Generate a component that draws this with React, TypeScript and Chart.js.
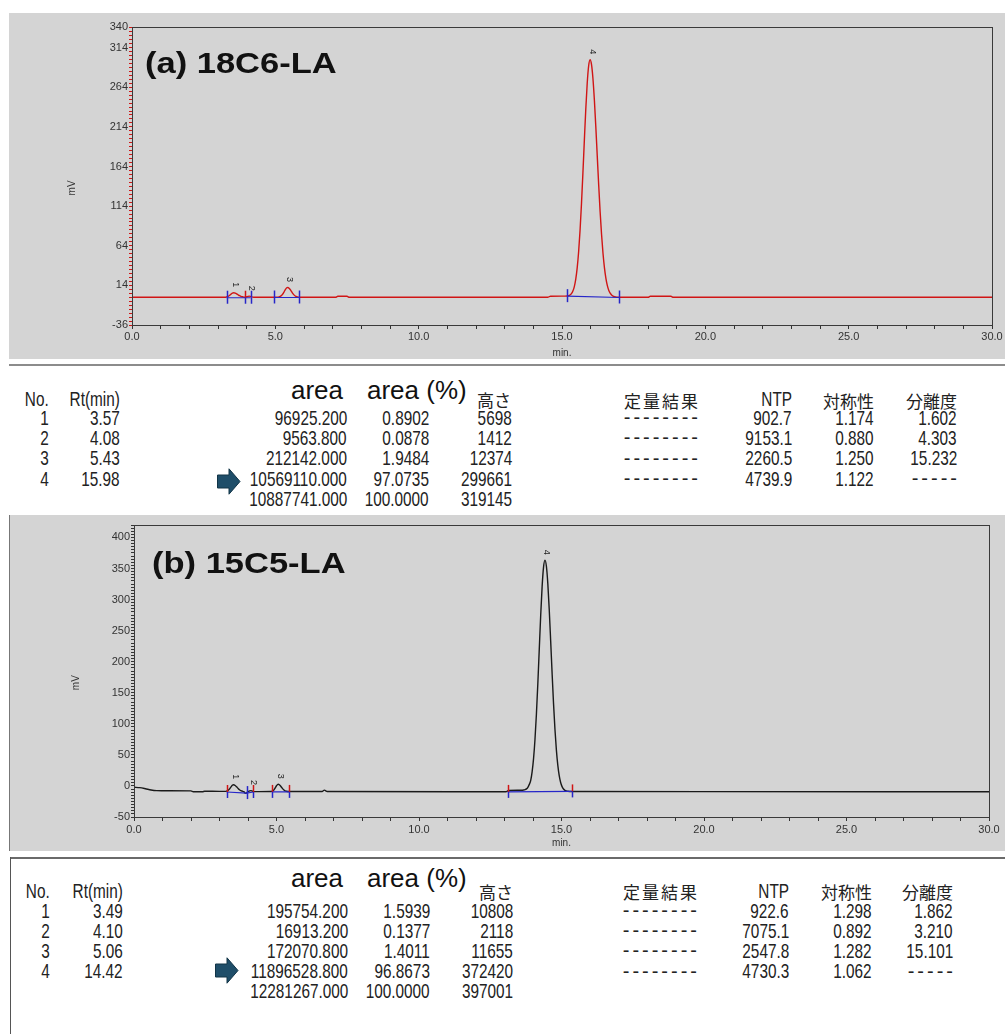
import React, { useEffect, useRef } from 'react';
import { Chart, registerables } from 'chart.js';

Chart.register(...registerables);

// ===================== DATA =====================
// ---- (a) 18C6-LA chromatogram (time in min, signal in mV) ----
const timeA = [
  0.0, 3.25, 3.3, 3.35, 3.4, 3.45, 3.5, 3.55, 3.6, 3.65, 3.7, 3.75, 3.8, 3.85, 3.9, 3.95,
  4.0, 4.05, 4.09, 4.13, 4.18, 4.25, 4.35, 5.0, 5.1, 5.2, 5.25, 5.3, 5.35, 5.4, 5.43, 5.48,
  5.55, 5.6, 5.65, 5.7, 5.8, 5.9, 7.1, 7.18, 7.5, 7.58, 14.5, 14.6, 15.1, 15.18, 15.23,
  15.28, 15.33, 15.38, 15.43, 15.48, 15.53, 15.58, 15.63, 15.68, 15.73, 15.78, 15.83, 15.88,
  15.93, 15.98, 16.03, 16.08, 16.13, 16.18, 16.23, 16.28, 16.33, 16.38, 16.43, 16.48, 16.53,
  16.58, 16.63, 16.68, 16.73, 16.78, 16.83, 16.88, 16.95, 18.0, 18.08, 18.8, 18.88, 30.0,
];
const signalA = [
  -1, -1, -0.6, 0.1, 1.2, 2.8, 4.1, 4.7, 4.3, 3.4, 2.2, 1.0, 0.2, -0.4, -0.8, -0.9,
  -0.4, 0.2, 0.4, 0.1, -0.5, -0.9, -1, -1, -0.8, 0.7, 2.6, 5.5, 8.7, 11.0, 11.4, 10.5,
  7.1, 4.3, 2.0, 0.4, -0.8, -1, -1, 0.2, 0.2, -1, -1, 0.3, 0.4, 0.6, 1.0,
  1.9, 3.6, 6.8, 12.5, 21.8, 36.0, 56.4, 83.5, 117.3, 156.1, 197.3, 236.5, 269.3,
  291.1, 298.7, 292.5, 274.7, 247.5, 213.8, 177.1, 140.6, 107.0, 78.1, 54.5, 36.3, 23.1,
  13.9, 7.9, 4.1, 1.8, 0.5, -0.3, -0.65, -1, -1, 0.2, 0.2, -1, -1,
];
const peakNoA = ['1', '2', '3', '4'];
const peakTimeA = [3.55, 4.1, 5.43, 15.98];
const peakTopA = [4.7, 0.4, 11.4, 298.7];
const baseTimeA = [3.3, 4.14, 4.5, 4.95, 5.84, 10, 15.18, 16.99];
const baseLevelA = [-1.6, -1.6, null, -1.3, -1.3, null, 0.4, -1.3];
const markTimeA = [3.3, 3.93, 4.14, 4.95, 5.84, 15.18, 16.99];
const markLevelA = [-1.6, -1.6, -1.6, -1.3, -1.3, 0.4, -1.3];
const markKindA = ['b', 'rb', 'b', 'b', 'b', 'b', 'b'];
const yLabelsA = [-36, 14, 64, 114, 164, 214, 264, 314, 340];

// ---- (b) 15C5-LA chromatogram ----
const timeB = [
  0.0, 0.2, 0.4, 0.6, 0.8, 1.2, 2.0, 2.08, 2.4, 2.48, 3.0, 3.2, 3.25, 3.3, 3.35, 3.4, 3.45,
  3.49, 3.55, 3.6, 3.65, 3.7, 3.75, 3.8, 3.85, 3.92, 3.96, 4.02, 4.1, 4.16, 4.22, 4.3, 4.8,
  4.85, 4.9, 4.95, 5.0, 5.06, 5.1, 5.15, 5.2, 5.25, 5.3, 5.35, 5.4, 6.6, 6.68, 6.78, 13.05,
  13.15, 13.6, 13.67, 13.72, 13.77, 13.82, 13.87, 13.92, 13.97, 14.02, 14.07, 14.12, 14.17,
  14.22, 14.27, 14.32, 14.37, 14.42, 14.47, 14.52, 14.57, 14.62, 14.67, 14.72, 14.77, 14.82,
  14.87, 14.92, 14.97, 15.02, 15.07, 15.12, 15.17, 15.22, 15.35, 20.0, 30.0,
];
const signalB = [
  -2, -2.8, -4.5, -6.5, -7.5, -7.8, -8.0, -9.3, -9.3, -8.5, -8.8, -8.8, -8.4, -7.2, -5.0, -1.8, 1.0,
  1.8, 0.7, -1.5, -3.9, -6.1, -7.5, -8.4, -9.2, -12.0, -10.8, -8.6, -7.5, -8.5, -9.2, -9.1, -8.9,
  -8.3, -6.8, -3.6, 0.3, 2.7, 2.0, -0.5, -3.6, -6.2, -7.8, -8.6, -8.9, -9.0, -6.8, -9.0, -9.3,
  -7.3, -7.0, -6.6, -6.0, -4.8, -2.3, 2.5, 8.9, 22.9, 44.4, 75.2, 115.9, 165.4,
  220.2, 274.4, 320.8, 352.3, 363.4, 353.6, 325.6, 283.6, 233.5, 181.6, 132.9, 91.2, 58.0,
  33.5, 16.5, 5.6, -1.1, -5.0, -7.1, -8.1, -8.6, -9.0, -9.2, -9.3,
];
const peakNoB = ['1', '2', '3', '4'];
const peakTimeB = [3.49, 4.12, 5.06, 14.42];
const peakTopB = [1.8, -7.5, 2.7, 363.4];
const baseTimeB = [3.25, 3.95, 4.19, 4.5, 4.83, 5.45, 9, 13.11, 15.36];
const baseLevelB = [-9.8, -11.5, -9.8, null, -9.6, -9.6, null, -9.6, -8.8];
const markTimeB = [3.25, 3.95, 4.19, 4.83, 5.45, 13.11, 15.36];
const markLevelB = [-9.8, -11.5, -9.8, -9.6, -9.6, -9.6, -8.8];
const markKindB = ['rb', 'b', 'rb', 'rb', 'rb', 'rb', 'rb'];
const yLabelsB = [-50, 0, 50, 100, 150, 200, 250, 300, 350, 400];

const xLabels = [0, 5, 10, 15, 20, 25, 30];

// ---- result tables ----
const peakNos = ['1', '2', '3', '4'];
const rtA = ['3.57', '4.08', '5.43', '15.98'];
const areaA = ['96925.200', '9563.800', '212142.000', '10569110.000', '10887741.000'];
const areaPctA = ['0.8902', '0.0878', '1.9484', '97.0735', '100.0000'];
const heightA = ['5698', '1412', '12374', '299661', '319145'];
const quantA = ['--------', '--------', '--------', '--------'];
const ntpA = ['902.7', '9153.1', '2260.5', '4739.9'];
const symA = ['1.174', '0.880', '1.250', '1.122'];
const resA = ['1.602', '4.303', '15.232', '-----'];

const rtB = ['3.49', '4.10', '5.06', '14.42'];
const areaB = ['195754.200', '16913.200', '172070.800', '11896528.800', '12281267.000'];
const areaPctB = ['1.5939', '0.1377', '1.4011', '96.8673', '100.0000'];
const heightB = ['10808', '2118', '11655', '372420', '397001'];
const quantB = ['--------', '--------', '--------', '--------'];
const ntpB = ['922.6', '7075.1', '2547.8', '4730.3'];
const symB = ['1.298', '0.892', '1.282', '1.062'];
const resB = ['1.862', '3.210', '15.101', '-----'];

// ===================== STYLE =====================
const GREY = '#d4d4d4';
const BLUE = '#2626c8';
const RED = '#d01515';
const SANS = '"Liberation Sans", Arial, sans-serif';
const NUM = '"Liberation Sans", Arial, sans-serif';
const JP = '"Noto Sans CJK JP", sans-serif';

type ChromProps = {
  left: number; top: number; width: number; height: number;
  axisW: number; padTop: number; padRight: number;
  yMin: number; yMax: number; yLabels: number[];
  time: number[]; signal: number[];
  baseTime: number[]; baseLevel: (number | null)[];
  markTime: number[]; markLevel: number[]; markKind: string[];
  peakNo: string[]; peakTime: number[]; peakTop: number[];
  traceColor: string; yTickColor: string; xLabelPad: number; titlePadBottom: number; mvOffset: number;
};

function Chromatogram(p: ChromProps) {
  const ref = useRef<HTMLCanvasElement>(null);
  useEffect(() => {
    const overlay = {
      id: 'overlay',
      afterDatasetsDraw(chart: any) {
        const { ctx, scales } = chart;
        const x = scales.x, y = scales.y;
        ctx.save();
        p.markTime.forEach((t, i) => {
          const px = Math.round(x.getPixelForValue(t)) + 0.5;
          const py = y.getPixelForValue(p.markLevel[i]);
          ctx.lineWidth = 1.5;
          ctx.strokeStyle = p.markKind[i] === 'rb' ? RED : BLUE;
          ctx.beginPath(); ctx.moveTo(px, py - 7); ctx.lineTo(px, py); ctx.stroke();
          ctx.strokeStyle = BLUE;
          ctx.beginPath(); ctx.moveTo(px, py); ctx.lineTo(px, py + 6); ctx.stroke();
        });
        ctx.fillStyle = '#222';
        ctx.font = `9px ${SANS}`;
        ctx.textAlign = 'center';
        ctx.textBaseline = 'middle';
        p.peakNo.forEach((n, i) => {
          const px = x.getPixelForValue(p.peakTime[i]) + 2;
          const py = y.getPixelForValue(p.peakTop[i]) - 8;
          ctx.save();
          ctx.translate(px, py);
          ctx.rotate(Math.PI / 2);
          ctx.fillText(n, 0, 0);
          ctx.restore();
        });
        ctx.restore();
      },
      afterDraw(chart: any) {
        const { ctx, chartArea } = chart;
        ctx.save();
        ctx.strokeStyle = '#3a3a3a';
        ctx.lineWidth = 1;
        ctx.strokeRect(Math.round(chartArea.left) + 0.5, Math.round(chartArea.top) + 0.5,
          Math.round(chartArea.right - chartArea.left), Math.round(chartArea.bottom - chartArea.top));
        ctx.translate(chartArea.left - p.mvOffset, chartArea.top + 0.54 * (chartArea.bottom - chartArea.top));
        ctx.rotate(-Math.PI / 2);
        ctx.fillStyle = '#333';
        ctx.font = `10px ${SANS}`;
        ctx.textAlign = 'center';
        ctx.textBaseline = 'middle';
        ctx.fillText('mV', 0, 0);
        ctx.restore();
      },
    };

    const chart = new Chart(ref.current as HTMLCanvasElement, {
      type: 'line',
      data: {
        datasets: [
          {
            data: p.baseTime.map((t, i) => ({ x: t, y: p.baseLevel[i] })) as any,
            borderColor: BLUE, borderWidth: 1.2, pointRadius: 0, spanGaps: false, order: 0,
          },
          {
            data: p.time.map((t, i) => ({ x: t, y: p.signal[i] })),
            borderColor: p.traceColor, borderWidth: 1.4, pointRadius: 0,
            cubicInterpolationMode: 'monotone', order: 1,
          },
        ],
      },
      options: {
        animation: false,
        responsive: false,
        layout: { padding: { top: p.padTop, right: p.padRight, left: 0, bottom: 0 } },
        plugins: { legend: { display: false }, tooltip: { enabled: false } },
        scales: {
          x: {
            type: 'linear', min: 0, max: 30,
            afterBuildTicks: (axis: any) => {
              const ticks = [];
              for (let v = 0; v <= 30; v += 1) ticks.push({ value: v });
              axis.ticks = ticks;
            },
            afterFit: (s: any) => { s.height = 34; },
            ticks: {
              autoSkip: false, maxRotation: 0, padding: p.xLabelPad, color: '#333',
              font: { family: SANS, size: 11 },
              callback: (v: any) => (xLabels.includes(Number(v)) ? Number(v).toFixed(1) : ''),
            },
            grid: { drawOnChartArea: false, tickLength: 4, tickColor: '#333' },
            border: { color: '#333', width: 1 },
            title: { display: true, text: 'min.', color: '#333', font: { family: SANS, size: 10 }, padding: { top: 0, bottom: p.titlePadBottom } },
          },
          y: {
            type: 'linear', min: p.yMin, max: p.yMax,
            afterBuildTicks: (axis: any) => {
              const vals: number[] = [];
              for (let v = p.yMin; v <= p.yMax + 1e-9; v += 5) vals.push(v);
              p.yLabels.forEach((v) => { if (!vals.includes(v)) vals.push(v); });
              vals.sort((a, b) => a - b);
              axis.ticks = vals.map((v) => ({ value: v }));
            },
            afterFit: (s: any) => { s.width = p.axisW; },
            ticks: {
              autoSkip: false, padding: 1, color: '#333',
              font: { family: SANS, size: 11 },
              callback: (v: any) => (p.yLabels.includes(Number(v)) ? String(v) : ''),
            },
            grid: { drawOnChartArea: false, tickLength: 3, tickColor: p.yTickColor },
            border: { color: '#333', width: 1 },
          },
        },
      } as any,
      plugins: [overlay],
    });
    return () => chart.destroy();
  }, []);
  return (
    <canvas ref={ref} width={p.width} height={p.height}
      style={{ position: 'absolute', left: p.left, top: p.top, width: p.width, height: p.height }} />
  );
}

// ---------- table helpers ----------
function R(props: { x: number; y: number; text: string; size?: number; font?: string; ls?: number; sx?: number; color?: string }) {
  const size = props.size ?? 21;
  const ls = props.ls ?? 0;
  const sx = props.sx ?? 0.73;
  return (
    <div style={{
      position: 'absolute', right: 1005 - props.x - ls, top: props.y - size / 2, height: size,
      lineHeight: `${size}px`, fontSize: size, fontFamily: props.font ?? NUM, letterSpacing: ls,
      color: props.color ?? '#222', whiteSpace: 'nowrap', textAlign: 'right',
      transform: sx !== 1 ? `scaleX(${sx})` : undefined, transformOrigin: 'right center',
    }}>{props.text}</div>
  );
}

function Arrow(props: { left: number; top: number }) {
  return (
    <svg style={{ position: 'absolute', left: props.left, top: props.top }} width={24} height={27} viewBox="0 0 24 27">
      <polygon points="0.5,7 12,7 12,0.8 23,13.5 12,26.2 12,20 0.5,20" fill="#1f4e69" stroke="#123447" strokeWidth={1} />
    </svg>
  );
}

type TableProps = {
  hy: number; jy: number; rows: number[]; areaBase: number;
  cx: { no: number; rt: number; area: number; pct: number; h: number; q: number; ntp: number; sym: number; res: number; hLeft: number };
  rt: string[]; area: string[]; pct: string[]; height: string[]; quant: string[]; ntp: string[]; sym: string[]; res: string[];
  arrowLeft: number; arrowTop: number;
};

function ResultTable(t: TableProps) {
  const c = t.cx;
  return (
    <>
      <R x={c.no} y={t.hy} text="No." />
      <R x={c.rt} y={t.hy} text="Rt(min)" />
      <div style={{ position: 'absolute', right: 1005 - 343, top: t.areaBase - 22, lineHeight: '26px', fontSize: 26, fontFamily: SANS, color: '#111', whiteSpace: 'nowrap' }}>area</div>
      <div style={{ position: 'absolute', left: 367, top: t.areaBase - 22, lineHeight: '26px', fontSize: 26, fontFamily: SANS, color: '#111', whiteSpace: 'nowrap' }}>area (%)</div>
      <div style={{ position: 'absolute', left: c.hLeft, top: t.jy - 9, lineHeight: '18px', fontSize: 17, fontFamily: JP, color: '#222', whiteSpace: 'nowrap' }}>高さ</div>
      <R x={c.q} y={t.jy} text="定量結果" font={JP} size={17} ls={2} sx={1} />
      <R x={c.ntp} y={t.hy} text="NTP" />
      <R x={c.sym} y={t.jy} text="対称性" font={JP} size={17} sx={1} />
      <R x={c.res} y={t.jy} text="分離度" font={JP} size={17} sx={1} />
      {peakNos.map((n, i) => <R key={'n' + i} x={c.no} y={t.rows[i]} text={n} />)}
      {t.rt.map((v, i) => <R key={'r' + i} x={c.rt} y={t.rows[i]} text={v} />)}
      {t.area.map((v, i) => <R key={'a' + i} x={c.area} y={t.rows[i]} text={v} />)}
      {t.pct.map((v, i) => <R key={'p' + i} x={c.pct} y={t.rows[i]} text={v} />)}
      {t.height.map((v, i) => <R key={'h' + i} x={c.h} y={t.rows[i]} text={v} />)}
      {t.quant.map((v, i) => <R key={'q' + i} x={c.q} y={t.rows[i]} text={v} size={20} ls={3} sx={1} />)}
      {t.ntp.map((v, i) => <R key={'t' + i} x={c.ntp} y={t.rows[i]} text={v} />)}
      {t.sym.map((v, i) => <R key={'s' + i} x={c.sym} y={t.rows[i]} text={v} />)}
      {t.res.map((v, i) => (v.startsWith('-')
        ? <R key={'e' + i} x={c.res} y={t.rows[i]} text={v} size={20} ls={3} sx={1} />
        : <R key={'e' + i} x={c.res} y={t.rows[i]} text={v} />))}
      <Arrow left={t.arrowLeft} top={t.arrowTop} />
    </>
  );
}

function PanelTitle(props: { text: string; left: number; top: number }) {
  return (
    <div style={{
      position: 'absolute', left: props.left, top: props.top, fontFamily: SANS, fontWeight: 'bold',
      fontSize: 30, lineHeight: '30px', color: '#111', whiteSpace: 'nowrap',
      transform: 'scaleX(1.15)', transformOrigin: 'left top',
    }}>{props.text}</div>
  );
}

export default function App() {
  return (
    <div style={{ position: 'fixed', left: 0, top: 0, width: 1005, height: 1034, background: '#fff', overflow: 'hidden' }}>
      {/* ---------- panel (a) ---------- */}
      <div style={{ position: 'absolute', left: 9, top: 13, width: 996, height: 346, background: GREY }} />
      <Chromatogram
        left={9} top={13} width={996} height={346} axisW={123} padTop={14} padRight={13}
        yMin={-36} yMax={340} yLabels={yLabelsA}
        time={timeA} signal={signalA} baseTime={baseTimeA} baseLevel={baseLevelA}
        markTime={markTimeA} markLevel={markLevelA} markKind={markKindA}
        peakNo={peakNoA} peakTime={peakTimeA} peakTop={peakTopA}
        traceColor={RED} yTickColor={RED} xLabelPad={1} titlePadBottom={0} mvOffset={59.5}
      />
      <PanelTitle text="(a) 18C6-LA" left={145} top={47.8} />
      <div style={{ position: 'absolute', left: 9, top: 364, width: 996, height: 2, background: '#8c8c8c' }} />
      <ResultTable
        hy={398} jy={400} areaBase={399} rows={[417, 437.3, 457.7, 478, 498.3]}
        cx={{ no: 49, rt: 120, area: 347, pct: 429, h: 512, q: 698, ntp: 792, sym: 874, res: 957, hLeft: 477 }}
        rt={rtA} area={areaA} pct={areaPctA} height={heightA} quant={quantA} ntp={ntpA} sym={symA} res={resA}
        arrowLeft={217} arrowTop={468}
      />

      {/* ---------- panel (b) ---------- */}
      <div style={{ position: 'absolute', left: 9, top: 515, width: 996, height: 336, background: GREY }} />
      <div style={{ position: 'absolute', left: 9, top: 515, width: 1, height: 336, background: '#777' }} />
      <Chromatogram
        left={9} top={515} width={996} height={336} axisW={125} padTop={10} padRight={16}
        yMin={-50} yMax={420} yLabels={yLabelsB}
        time={timeB} signal={signalB} baseTime={baseTimeB} baseLevel={baseLevelB}
        markTime={markTimeB} markLevel={markLevelB} markKind={markKindB}
        peakNo={peakNoB} peakTime={peakTimeB} peakTop={peakTopB}
        traceColor="#1a1a1a" yTickColor="#333" xLabelPad={2} titlePadBottom={2} mvOffset={58}
      />
      <PanelTitle text="(b) 15C5-LA" left={152} top={547.8} />
      <div style={{ position: 'absolute', left: 10, top: 857, width: 995, height: 2, background: '#6a6a6a' }} />
      <div style={{ position: 'absolute', left: 10, top: 857, width: 1, height: 177, background: '#555' }} />
      <ResultTable
        hy={890} jy={891.5} areaBase={887.3} rows={[910, 930, 950, 970.5, 990.5]}
        cx={{ no: 50, rt: 123, area: 348, pct: 430, h: 513, q: 697, ntp: 789, sym: 872, res: 953, hLeft: 479 }}
        rt={rtB} area={areaB} pct={areaPctB} height={heightB} quant={quantB} ntp={ntpB} sym={symB} res={resB}
        arrowLeft={215} arrowTop={957}
      />
    </div>
  );
}
